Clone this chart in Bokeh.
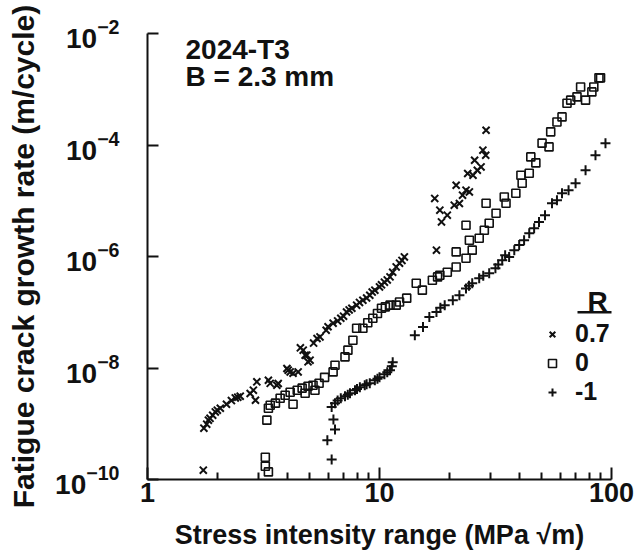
from bokeh.plotting import figure
from bokeh.models import (Range1d, FixedTicker, CustomJSTickFormatter, LogTickFormatter,
                          Label, Legend, LegendItem, BoxAnnotation)
from bokeh.embed import file_html
from bokeh.resources import INLINE

# ---------------- data ----------------
# R = 0.7  (x markers)
r07_dk = [1.74, 1.75, 1.80, 1.83, 1.86, 1.91, 1.96, 2.00, 2.06, 2.19, 2.30, 2.39, 2.45, 2.51,
          2.77, 2.86, 2.92, 2.96, 3.32, 3.38, 3.61, 3.66, 3.99, 4.04, 4.12, 4.24, 4.46, 4.56,
          4.69, 4.78, 4.86, 4.92, 5.02, 5.20, 5.38, 5.54, 5.89, 6.00, 6.31, 6.60, 6.81, 7.00,
          7.21, 7.40, 7.60, 7.97, 8.20, 8.48, 8.80, 9.08, 9.30, 9.55, 10.0, 10.2, 10.5, 10.8,
          11.1, 11.4, 11.8, 12.2, 12.5, 12.8,
          17.6, 17.3, 18.2, 18.5, 19.6, 21.0, 21.4, 22.1, 22.8, 23.6, 24.0, 24.4, 25.3, 25.7,
          26.4, 27.4, 27.9, 28.7, 28.8]
r07_dadn = [1.47e-10, 8.32e-10, 9.82e-10, 1.16e-9, 1.25e-9, 1.42e-9, 1.63e-9, 1.75e-9, 1.90e-9,
            2.24e-9, 2.60e-9, 2.91e-9, 3.00e-9, 3.12e-9, 3.49e-9, 4.00e-9, 2.64e-9, 5.64e-9,
            6.04e-9, 5.30e-9, 4.90e-9, 5.27e-9, 9.80e-9, 9.14e-9, 8.50e-9, 8.06e-9, 8.51e-9,
            2.30e-8, 2.09e-8, 1.70e-8, 1.70e-8, 1.29e-8, 1.38e-8, 2.80e-8, 3.38e-8, 3.61e-8,
            4.76e-8, 5.50e-8, 6.37e-8, 7.00e-8, 7.82e-8, 8.50e-8, 1.01e-7, 1.10e-7, 1.18e-7,
            1.34e-7, 1.50e-7, 1.64e-7, 1.80e-7, 2.02e-7, 2.30e-7, 2.49e-7, 2.85e-7, 3.10e-7,
            3.46e-7, 3.80e-7, 4.31e-7, 5.22e-7, 6.50e-7, 7.59e-7, 8.50e-7, 9.84e-7,
            1.30e-6, 1.10e-5, 6.77e-6, 4.17e-6, 5.51e-6, 8.32e-6, 1.90e-5, 8.92e-6, 1.26e-5,
            1.55e-5, 3.08e-5, 1.44e-5, 2.87e-5, 5.33e-5, 3.53e-5, 4.05e-5, 8.07e-5, 6.56e-5,
            1.84e-4]

# R = 0  (open squares)
r0_dk = [3.22, 3.22, 3.32, 3.27, 3.32, 3.38, 3.56, 3.73, 3.92, 4.12, 4.24, 4.42, 4.64, 4.78,
         4.92, 5.17, 5.27, 5.49, 5.80, 6.31, 6.43, 7.10, 7.31, 7.68, 7.97, 8.48, 8.90, 9.36,
         9.80, 10.2, 10.6, 11.1, 11.8, 12.2, 13.1, 14.4, 15.3, 16.9, 17.8, 18.2, 19.6, 21.4,
         23.6, 25.1, 26.9, 28.3, 29.7, 31.8, 34.5, 35.1, 38.7, 40.7, 41.2, 44.2, 44.9, 47.2,
         50.2, 53.8, 54.7, 58.2, 61.2, 64.3, 66.7, 71.0, 73.6, 77.3, 82.3, 83.9, 88.3, 89.7,
         21.4, 24.4, 23.6, 28.8]
r0_dadn = [2.51e-10, 1.73e-10, 1.37e-10, 1.16e-9, 1.90e-9, 2.15e-9, 2.34e-9, 2.87e-9, 3.25e-9,
           3.68e-9, 2.24e-9, 4.00e-9, 4.35e-9, 3.53e-9, 4.72e-9, 4.91e-9, 4.00e-9, 5.33e-9,
           6.80e-9, 8.51e-9, 1.12e-8, 1.58e-8, 2.09e-8, 3.15e-8, 5.17e-8, 5.17e-8, 6.50e-8,
           7.82e-8, 9.50e-8, 1.18e-7, 1.25e-7, 1.34e-7, 1.34e-7, 1.53e-7, 1.79e-7, 3.32e-7,
           2.49e-7, 3.76e-7, 4.31e-7, 4.62e-7, 5.22e-7, 6.50e-7, 9.31e-7, 1.30e-6, 2.13e-6,
           2.96e-6, 3.96e-6, 5.98e-6, 1.17e-5, 9.04e-6, 1.36e-5, 2.87e-5, 2.06e-5, 3.12e-5,
           6.12e-5, 4.77e-5, 1.08e-4, 9.25e-5, 1.72e-4, 2.59e-4, 3.19e-4, 5.62e-4, 6.37e-4,
           7.30e-4, 1.10e-3, 6.37e-4, 8.97e-4, 1.10e-3, 1.60e-3, 1.60e-3,
           1.21e-6, 1.96e-6, 3.64e-6, 9.00e-6]

# R = -1  (+ markers)
rm1_dk = [6.22, 5.96, 6.43, 6.33, 6.22, 6.43, 6.60, 6.81, 7.10, 7.30, 7.46, 7.84, 8.00, 8.23,
          8.64, 8.80, 9.08, 9.55, 9.80, 10.0, 10.5, 10.8, 11.1, 11.3, 11.4,
          14.2, 15.4, 16.4, 17.6, 18.3, 19.1, 20.7, 22.1, 23.6, 24.3, 25.1, 26.9, 28.0, 29.7,
          31.6, 32.5, 33.8, 34.8, 36.2, 38.1, 40.0, 42.0, 44.2, 46.4, 48.7, 51.7, 55.4, 58.2,
          61.2, 65.3, 70.0, 77.3, 85.3, 94.2]
rm1_dadn = [2.29e-10, 5.07e-10, 7.89e-10, 1.19e-9, 2.00e-9, 2.34e-9, 2.60e-9, 2.87e-9, 3.12e-9,
            3.30e-9, 3.53e-9, 4.00e-9, 4.20e-9, 4.53e-9, 4.91e-9, 5.10e-9, 5.33e-9, 6.04e-9,
            6.40e-9, 6.84e-9, 7.74e-9, 8.40e-9, 9.14e-9, 1.08e-8, 1.27e-8,
            3.88e-8, 5.46e-8, 8.26e-8, 1.01e-7, 1.20e-7, 1.34e-7, 1.64e-7, 2.02e-7, 2.67e-7,
            3.00e-7, 3.32e-7, 4.08e-7, 4.50e-7, 5.01e-7, 6.17e-7, 7.20e-7, 8.58e-7, 1.05e-6,
            9.84e-7, 1.30e-6, 1.60e-6, 1.96e-6, 2.62e-6, 3.22e-6, 4.17e-6, 5.51e-6, 9.04e-6,
            1.02e-5, 1.36e-5, 1.55e-5, 2.06e-5, 3.53e-5, 6.56e-5, 1.08e-4]

series_labels = ["0.7", "0", "-1"]
x_ticks = [1, 10, 100]
x_minor = [2, 3, 4, 5, 6, 7, 8, 9, 20, 30, 40, 50, 60, 70, 80, 90]
y_ticks = [1e-10, 1e-8, 1e-6, 1e-4, 1e-2]

FONT = "Liberation Sans"
INK = "#111111"

p = figure(width=640, height=552, x_axis_type="log", y_axis_type="log",
           x_range=Range1d(1, 100), y_range=Range1d(1e-10, 1e-2),
           output_backend="svg", toolbar_location=None,
           min_border_left=147, min_border_right=29, min_border_top=33, min_border_bottom=73)
p.outline_line_color = None
p.grid.visible = False
p.background_fill_color = "white"
p.border_fill_color = "white"

# axes
for ax in (p.xaxis[0], p.yaxis[0]):
    ax.axis_line_width = 2
    ax.axis_line_color = INK
    ax.major_tick_line_color = INK
    ax.minor_tick_line_color = INK
    ax.major_tick_line_width = 2
    ax.minor_tick_line_width = 2
    ax.major_tick_out = 0
    ax.minor_tick_out = 0
    ax.major_label_text_font = FONT
    ax.major_label_text_font_style = "bold"
    ax.major_label_text_color = INK
    ax.axis_label_text_font = FONT
    ax.axis_label_text_font_style = "bold"
    ax.axis_label_text_color = INK

p.xaxis.ticker = FixedTicker(ticks=x_ticks, minor_ticks=x_minor)
p.xaxis.formatter = CustomJSTickFormatter(code="return tick.toFixed(0);")
p.xaxis.major_tick_in = 12
p.xaxis.minor_tick_in = 7
p.xaxis.major_label_text_font_size = "27px"
p.xaxis.major_label_standoff = 3
p.xaxis.axis_label = "Stress intensity range (MPa \u221am)"
p.xaxis.axis_label_text_font_size = "27px"
p.xaxis.axis_label_standoff = 15

p.yaxis.ticker = FixedTicker(ticks=y_ticks, minor_ticks=[])
p.yaxis.formatter = LogTickFormatter()
p.yaxis.major_tick_in = 11
p.yaxis.minor_tick_in = 0
p.yaxis.major_label_text_font_size = "28px"
p.yaxis.major_label_standoff = 28
p.yaxis.axis_label = "Fatigue crack growth rate (m/cycle)"
p.yaxis.axis_label_text_font_size = "30px"
p.yaxis.axis_label_standoff = 12

# data
r1 = p.scatter(r07_dk, r07_dadn, marker="x", size=10, line_width=2, line_color=INK)
r2 = p.scatter(r0_dk, r0_dadn, marker="square", size=8, line_width=1.6,
               line_color=INK, fill_color=None)
r3 = p.scatter(rm1_dk, rm1_dadn, marker="cross", size=10, line_width=2, line_color=INK)

legend = Legend(items=[LegendItem(label=series_labels[0], renderers=[r1]),
                       LegendItem(label=series_labels[1], renderers=[r2]),
                       LegendItem(label=series_labels[2], renderers=[r3])],
                location=(395, 73), padding=0, margin=0, spacing=0,
                glyph_width=20, glyph_height=20, label_standoff=13,
                label_text_font=FONT, label_text_font_style="bold",
                label_text_font_size="25px", label_text_color=INK,
                border_line_color=None, background_fill_alpha=0)
p.add_layout(legend)

p.add_layout(Label(x=450, y=178, x_units="screen", y_units="screen", text="R",
                   text_font=FONT, text_font_style="bold", text_font_size="28px",
                   text_color=INK, text_align="center", text_baseline="alphabetic"))
p.add_layout(BoxAnnotation(left=430, right=466, bottom=166, top=168.5,
                           left_units="screen", right_units="screen",
                           bottom_units="screen", top_units="screen",
                           fill_color=INK, fill_alpha=1, line_color=None))

p.add_layout(Label(x=38, y=430, x_units="screen", y_units="screen", text="2024-T3",
                   text_font=FONT, text_font_style="bold", text_font_size="28px",
                   text_color=INK, text_baseline="alphabetic"))
p.add_layout(Label(x=38, y=403, x_units="screen", y_units="screen", text="B = 2.3 mm",
                   text_font=FONT, text_font_style="bold", text_font_size="28px",
                   text_color=INK, text_baseline="alphabetic"))

open("out.html", "w").write(file_html(p, INLINE))
